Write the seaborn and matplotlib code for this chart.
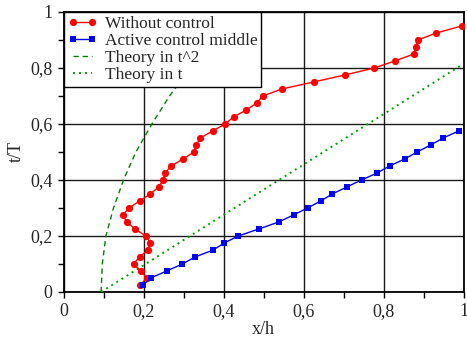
import numpy as np
import pandas as pd
import matplotlib
matplotlib.use("Agg")
import matplotlib.pyplot as plt
from matplotlib.ticker import MultipleLocator, FixedLocator, FixedFormatter
import seaborn as sns

# ---- data ----
t_red = [0.025, 0.05, 0.075, 0.1, 0.125, 0.15, 0.175, 0.2, 0.225, 0.25,
         0.275, 0.3, 0.325, 0.35, 0.375, 0.4, 0.425, 0.45, 0.475, 0.5,
         0.525, 0.55, 0.575, 0.6, 0.625, 0.65, 0.675, 0.7, 0.725, 0.75,
         0.775, 0.8, 0.825, 0.85, 0.875, 0.9, 0.925, 0.95]
x_red = [0.192, 0.208, 0.194, 0.175, 0.190, 0.211, 0.217, 0.206, 0.179, 0.158,
         0.148, 0.164, 0.190, 0.217, 0.238, 0.249, 0.254, 0.269, 0.299, 0.326,
         0.332, 0.342, 0.373, 0.404, 0.425, 0.457, 0.483, 0.498, 0.546, 0.625,
         0.703, 0.777, 0.828, 0.876, 0.881, 0.886, 0.932, 0.995]

t_blue = [0.025, 0.05, 0.075, 0.1, 0.125, 0.15, 0.175, 0.2, 0.225, 0.25,
          0.275, 0.3, 0.325, 0.35, 0.375, 0.4, 0.425, 0.45, 0.475, 0.5,
          0.525, 0.55, 0.575]
x_blue = [0.199, 0.218, 0.258, 0.297, 0.329, 0.374, 0.402, 0.437, 0.488, 0.538,
          0.575, 0.610, 0.643, 0.672, 0.708, 0.745, 0.784, 0.815, 0.853, 0.884,
          0.918, 0.949, 0.988]

t_theo2 = [0.0, 0.1, 0.2, 0.3, 0.4, 0.5, 0.6, 0.7, 0.8, 0.9, 1.0]
x_theo2 = [0.094, 0.097, 0.106, 0.125, 0.150, 0.181, 0.221, 0.265, 0.318, 0.378, 0.444]

t_theo1 = [0.0, 0.815]
x_theo1 = [0.094, 1.0]

tick_vals = [0, 0.2, 0.4, 0.6, 0.8, 1]
tick_labels = ["0", "0,2", "0,4", "0,6", "0,8", "1"]

labels = ["Without control", "Active control middle", "Theory in t^2", "Theory in t"]

# ---- style ----
sns.set_style("white")
plt.rcParams['font.family'] = ['Liberation Serif', 'DejaVu Serif']

fig = plt.figure(figsize=(4.67, 3.37), dpi=100)
ax = fig.add_axes([63.5 / 467, 45 / 337, 400 / 467, 280 / 337])

df_red = pd.DataFrame({"x": x_red, "t": t_red})
df_blue = pd.DataFrame({"x": x_blue, "t": t_blue})
df_t2 = pd.DataFrame({"x": x_theo2, "t": t_theo2})
df_t1 = pd.DataFrame({"x": x_theo1, "t": t_theo1})

sns.lineplot(data=df_red, x="x", y="t", sort=False, estimator=None, ax=ax,
             color="#ff0000", lw=1.0, marker="o", markersize=5.2,
             markeredgewidth=0, label=labels[0], zorder=5)
sns.lineplot(data=df_blue, x="x", y="t", sort=False, estimator=None, ax=ax,
             color="#0000ff", lw=1.0, marker="s", markersize=4.6,
             markeredgewidth=0, label=labels[1], zorder=5)
sns.lineplot(data=df_t2, x="x", y="t", sort=False, estimator=None, ax=ax,
             color="#008000", lw=1.0, dashes=False, label=labels[2], zorder=4)
sns.lineplot(data=df_t1, x="x", y="t", sort=False, estimator=None, ax=ax,
             color="#00a000", lw=1.4, dashes=False, label=labels[3], zorder=4)

lines = ax.get_lines()
lines[2].set_linestyle((0, (3.8, 2.8)))
lines[3].set_linestyle((0, (1, 2.1)))

ax.set_xlim(0, 1)
ax.set_ylim(0, 1)
ax.xaxis.set_major_locator(FixedLocator(tick_vals))
ax.xaxis.set_major_formatter(FixedFormatter(tick_labels))
ax.yaxis.set_major_locator(FixedLocator(tick_vals))
ax.yaxis.set_major_formatter(FixedFormatter(tick_labels))
ax.xaxis.set_minor_locator(MultipleLocator(0.1))
ax.yaxis.set_minor_locator(MultipleLocator(0.1))
ax.tick_params(which="both", direction="out", length=4, width=1, color="black",
               bottom=True, left=True, top=False, right=False)
ax.tick_params(which="major", labelsize=13, pad=4)

ax.grid(True, which="major", color="#1a1a1a", lw=1.0)
ax.set_axisbelow(True)
for s in ax.spines.values():
    s.set_color("black")
    s.set_linewidth(1.3)

ax.set_xlabel("x/h", fontsize=13, labelpad=1)
ax.set_ylabel("t/T", fontsize=13, labelpad=4)

leg = ax.legend(loc="upper left", bbox_to_anchor=(0, 1), borderaxespad=0,
                fontsize=12.5, frameon=True, fancybox=False, framealpha=1,
                edgecolor="black", numpoints=2, handlelength=1.7,
                handletextpad=0.45, labelspacing=0.05, borderpad=0.22)
leg.get_frame().set_linewidth(1.0)
leg.set_zorder(10)

fig.savefig("out.png", dpi=100)
